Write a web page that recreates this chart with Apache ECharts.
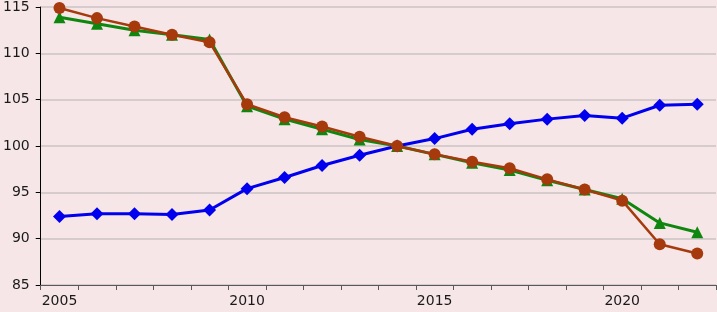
<!DOCTYPE html>
<html>
<head>
<meta charset="utf-8">
<script src="https://cdn.jsdelivr.net/npm/echarts@6/dist/echarts.min.js"></script>
<style>
  html, body { margin: 0; padding: 0; }
  #chart { width: 717px; height: 312px; background: #f6e6e7; }
</style>
</head>
<body>
<div id="chart"></div>
<script>
  // years on the x axis
  var years = ['2005', '2006', '2007', '2008', '2009', '2010', '2011', '2012', '2013',
    '2014', '2015', '2016', '2017', '2018', '2019', '2020', '2021', '2022'];
  // blue diamonds
  var blueVals = [92.4, 92.7, 92.7, 92.6, 93.1, 95.4, 96.6, 97.9, 99.0,
    100.0, 100.8, 101.8, 102.4, 102.9, 103.3, 103.0, 104.4, 104.5];
  // green triangles
  var greenVals = [113.9, 113.2, 112.5, 112.0, 111.5, 104.3, 102.9, 101.8, 100.7,
    100.0, 99.1, 98.2, 97.4, 96.3, 95.3, 94.3, 91.7, 90.7];
  // brown circles
  var brownVals = [114.9, 113.8, 112.9, 112.0, 111.2, 104.5, 103.1, 102.1, 101.0,
    100.0, 99.1, 98.3, 97.6, 96.4, 95.3, 94.1, 89.4, 88.4];

  var myChart = echarts.init(document.getElementById('chart'));
  var option = {
    backgroundColor: '#f6e6e7',
    animation: false,
    grid: { left: 40, right: 1, top: 5, bottom: 27 },
    xAxis: {
      type: 'category',
      data: years,
      boundaryGap: true,
      axisLine: { lineStyle: { color: '#595959', width: 1 } },
      axisTick: { show: true, interval: 0, length: 5, inside: false, lineStyle: { color: '#595959' } },
      axisLabel: { interval: 4, color: '#1a1a1a', fontSize: 14, fontFamily: 'DejaVu Sans', margin: 9 }
    },
    yAxis: {
      type: 'value',
      min: 85,
      max: 115,
      interval: 5,
      axisLine: { show: true, lineStyle: { color: '#000000', width: 1 } },
      axisTick: { show: true, length: 5, lineStyle: { color: '#000000' } },
      axisLabel: { color: '#1a1a1a', fontSize: 14, fontFamily: 'DejaVu Sans', margin: 11 },
      splitLine: { lineStyle: { color: '#d6cccd', width: 2 } }
    },
    series: [
      {
        name: 'blue',
        type: 'line',
        data: blueVals,
        symbol: 'diamond',
        symbolSize: 13,
        itemStyle: { color: '#0000ee' },
        lineStyle: { color: '#0000ee', width: 3 },
        z: 3
      },
      {
        name: 'green',
        type: 'line',
        data: greenVals,
        symbol: 'triangle',
        symbolSize: 12,
        itemStyle: { color: '#0f870f' },
        lineStyle: { color: '#0f870f', width: 3 },
        z: 4
      },
      {
        name: 'brown',
        type: 'line',
        data: brownVals,
        symbol: 'circle',
        symbolSize: 12,
        itemStyle: { color: '#a63a0c' },
        lineStyle: { color: '#a63a0c', width: 2.5 },
        z: 5
      }
    ]
  };
  myChart.setOption(option, true);
</script>
</body>
</html>
